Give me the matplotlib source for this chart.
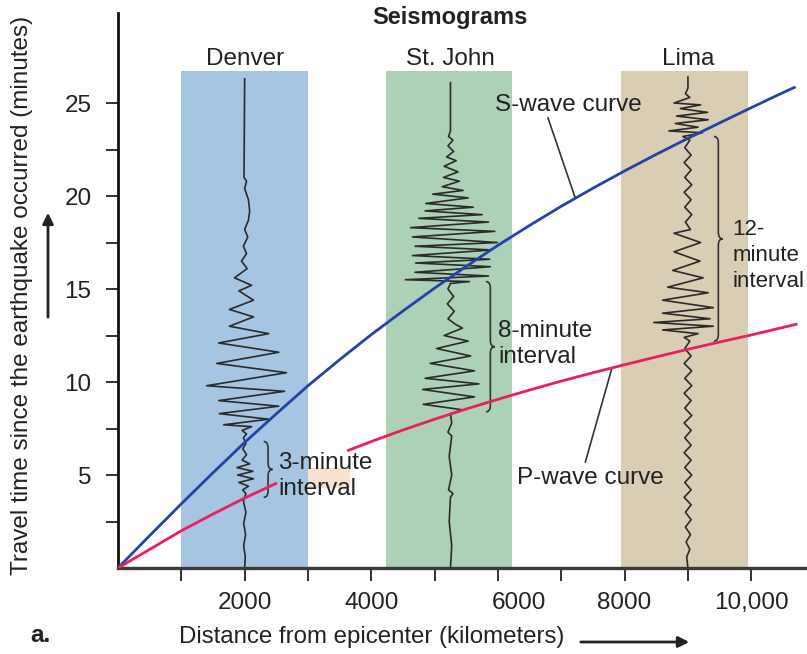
import matplotlib
matplotlib.use("Agg")
import matplotlib.pyplot as plt
import matplotlib.transforms as mtransforms
from matplotlib.path import Path
from matplotlib.patches import PathPatch, Rectangle, FancyArrowPatch

plt.rcParams['font.family'] = ['Liberation Sans', 'DejaVu Sans']

# ---- data -------------------------------------------------------------
stations = ["Denver", "St. John", "Lima"]
station_km = [2000, 5250, 9000]
band_left_km = [1000, 4230, 7950]
band_right_km = [3000, 6220, 9950]
band_top_min = 26.7
band_colors = ["#a5c5e2", "#acd1b6", "#d9cdb3"]

# S-wave travel-time curve (km, minutes)
s_km = [0, 500, 1000, 1500, 2000, 2500, 3000, 3500, 4000, 4500, 5000, 5500,
        6000, 6500, 7000, 7500, 8000, 8500, 9000, 9500, 10000, 10350, 10700]
s_min = [0, 1.74, 3.45, 5.12, 6.75, 8.29, 9.8, 11.2, 12.55, 13.82, 15.05, 16.22,
         17.35, 18.42, 19.45, 20.42, 21.35, 22.24, 23.1, 23.93, 24.75, 25.32, 25.87]

# P-wave travel-time curve, drawn in two pieces around the Denver label
p_near_km = [0, 500, 1000, 1500, 2000, 2510]
p_near_min = [0, 1.0, 2.0, 2.9, 3.76, 4.57]
p_far_km = [3620, 4000, 4500, 5000, 5500, 6000, 6500, 7000, 7500, 8000,
            8500, 9000, 9500, 10000, 10730]
p_far_min = [6.3, 6.8, 7.42, 8.0, 8.55, 9.07, 9.57, 10.05, 10.5, 10.93,
             11.35, 11.76, 12.15, 12.53, 13.12]

# seismogram traces: (minutes, sideways deflection in km)
denver_t = [26.3, 21.0, 20.8, 20.4, 19.8, 19.2, 18.7, 18.2, 17.8, 17.3, 16.9,
            16.5, 16.1, 15.6, 15.2, 14.9, 14.4, 13.9, 13.5, 13.0, 12.6, 12.1,
            11.6, 11.0, 10.5, 9.8, 9.5, 9.0, 8.7, 8.3, 8.0, 7.7, 7.6, 7.4, 7.2,
            7.0, 6.7, 6.4, 6.1, 5.8, 5.6, 5.4, 5.2, 5.0, 4.8, 4.6, 4.4, 4.2,
            4.0, 3.6, 3.0, 2.4, 1.8, 1.2, 0.6, 0.0]
denver_dx = [0, -10, 30, 0, 60, 80, 60, 0, 50, -20, 30,
             -50, 40, -160, 110, -90, 140, -240, 140, -240, 380, -410,
             540, -440, 660, -600, 630, -410, 540, -400, 380, -330, 110, -40, 30,
             -20, 20, -30, 30, -40, 80, -120, 130, -110, 140, -90, 60, -30,
             20, -20, 20, -15, 15, -15, 10, 0]

stjohn_t = [26.1, 23.5, 23.2, 23.0, 22.7, 22.4, 22.1, 21.9, 21.6, 21.3, 21.0,
            20.8, 20.5, 20.3, 20.1, 19.9, 19.6, 19.4, 19.2, 19.0, 18.8, 18.6,
            18.3, 18.1, 17.8, 17.5, 17.3, 17.1, 16.8, 16.6, 16.4, 16.2, 15.9,
            15.7, 15.5, 15.4, 15.3, 15.0, 14.6, 14.2, 13.8, 13.4, 13.1, 12.9,
            12.5, 12.2, 11.8, 11.4, 11.0, 10.6, 10.2, 9.9, 9.6, 9.2, 8.8, 8.5,
            8.3, 7.8, 7.3, 7.1, 6.0, 5.0, 4.2, 4.0, 3.8, 2.5, 1.2, 0.0]
stjohn_dx = [0, 0, -30, 40, -40, 50, -60, 90, -100, 120, -110,
             140, -130, 200, -280, 280, -390, 360, -400, 500, -500, 600,
             -630, 700, -600, 740, -560, 650, -600, 620, -550, 630, -560,
             600, -710, 300, 0, -40, 50, -50, 60, -40, 80, 190,
             -100, 280, -220, 320, -320, 380, -400, 450, -440, 380, -430, 200,
             0, 20, -40, 20, -20, 20, -30, 40, 0, -20, 20, 0]

lima_t = [26.4, 25.8, 25.5, 25.3, 25.0, 24.9, 24.7, 24.5, 24.3, 24.1, 23.9,
          23.7, 23.5, 23.4, 23.2, 23.0, 22.6, 22.2, 21.8, 21.4, 21.0, 20.6,
          20.2, 19.8, 19.4, 19.0, 18.6, 18.2, 18.0, 17.5, 17.0, 16.5, 16.0,
          15.6, 15.1, 14.8, 14.4, 14.0, 13.7, 13.4, 13.2, 13.0, 12.8, 12.6,
          12.4, 12.2, 11.8, 11.4, 11.0, 10.6, 10.2, 9.8, 9.4, 9.0, 8.6, 8.2,
          7.8, 7.4, 7.0, 6.6, 6.2, 5.8, 5.4, 5.0, 4.6, 4.2, 3.8, 3.4, 3.0,
          2.6, 2.2, 1.8, 1.4, 1.0, 0.6, 0.0]
lima_dx = [0, 0, -40, 30, -220, 200, -120, 310, -180, 320, -200,
           160, -300, 230, -80, 30, -50, 50, -60, 50, -50, 60,
           -60, 50, -50, 60, -40, 40, -220, 200, -220, 190, -240,
           240, -320, 320, -400, 400, -400, 350, -540, 400, -400, 160,
           -60, 30, -50, 50, -60, 60, -50, 60, -60, 50, -50, 60,
           -60, 50, -50, 50, -60, 50, -50, 60, -50, 50, -60, 50, -40,
           50, -40, 40, -30, 30, -20, 0]

# interval braces: (x position in km, lower minute, upper minute)
brace_km = [2370, 5880, 9480]
brace_lo = [3.8, 8.4, 12.2]
brace_hi = [6.8, 15.4, 23.2]

x_ticks = list(range(1000, 10001, 1000))
x_tick_labels = ["", "2000", "", "4000", "", "6000", "", "8000", "", "10,000"]
y_ticks = [2.5, 5, 7.5, 10, 12.5, 15, 17.5, 20, 22.5, 25]
y_tick_labels = ["", "5", "", "10", "", "15", "", "20", "", "25"]

# ---- figure -----------------------------------------------------------
fig = plt.figure(figsize=(8.07, 6.54), dpi=100)
ax = fig.add_axes([0.1462, 0.1315, 0.8538, 0.8486])
ax.set_xlim(0, 10880)
ax.set_ylim(0, 29.84)

txt = "#222222"
fs = 17.5

for name, cx, l, r, c in zip(stations, station_km, band_left_km, band_right_km, band_colors):
    ax.add_patch(Rectangle((l, 0), r - l, band_top_min, facecolor=c,
                           edgecolor="none", zorder=0))
    ax.text(cx, band_top_min + 0.05, name, ha="center", va="bottom",
            fontsize=fs, color=txt)

# light highlight behind the Denver interval note
ax.add_patch(Rectangle((3000, 4.3), 670, 1.1, facecolor="#f7e2cf",
                       edgecolor="none", zorder=0))

# seismograms
for cx, tt, dx in [(station_km[0], denver_t, denver_dx),
                   (station_km[1], stjohn_t, stjohn_dx),
                   (station_km[2], lima_t, lima_dx)]:
    ax.plot([cx + d for d in dx], tt, color="#2b2b2b", lw=1.2, zorder=2,
            solid_joinstyle="round")

# travel-time curves
ax.plot(s_km, s_min, color="#2443a6", lw=2.0, zorder=4, solid_capstyle="butt")
ax.plot(p_near_km, p_near_min, color="#ea1f5e", lw=2.0, zorder=4, solid_capstyle="butt")
ax.plot(p_far_km, p_far_min, color="#ea1f5e", lw=2.0, zorder=4, solid_capstyle="butt")


def brace(x, y0, y1, w=70.0, c=0.35):
    ym = 0.5 * (y0 + y1)
    verts = [(x - w, y1), (x, y1), (x, y1 - c),
             (x, ym + c),
             (x, ym), (x + w, ym),
             (x, ym), (x, ym - c),
             (x, y0 + c),
             (x, y0), (x - w, y0)]
    codes = [Path.MOVETO, Path.CURVE3, Path.CURVE3,
             Path.LINETO,
             Path.CURVE3, Path.CURVE3,
             Path.CURVE3, Path.CURVE3,
             Path.LINETO,
             Path.CURVE3, Path.CURVE3]
    ax.add_patch(PathPatch(Path(verts, codes), facecolor="none",
                           edgecolor="#333333", lw=1.2, zorder=3))


for bx, lo, hi in zip(brace_km, brace_lo, brace_hi):
    brace(bx, lo, hi)

ls = 1.2
ax.text(2530, 4.95, "3-minute\ninterval", fontsize=fs, color=txt,
        ha="left", va="center", linespacing=ls, zorder=5)
ax.text(6000, 12.05, "8-minute\ninterval", fontsize=fs, color=txt,
        ha="left", va="center", linespacing=ls, zorder=5)
ax.text(9700, 16.8, "12-\nminute\ninterval", fontsize=16, color=txt,
        ha="left", va="center", linespacing=1.3, zorder=5)

# curve labels with pointer lines
ax.text(5960, 24.9, "S-wave curve", fontsize=fs, color=txt, ha="left", va="center")
ax.plot([6790, 7220], [24.2, 19.9], color="#333333", lw=1.2, zorder=3)
ax.text(6300, 4.84, "P-wave curve", fontsize=fs, color=txt, ha="left", va="center")
ax.plot([7380, 7800], [5.7, 10.75], color="#333333", lw=1.2, zorder=3)

# axes styling
for s in ["top", "right"]:
    ax.spines[s].set_visible(False)
ax.spines["left"].set_color("#111111")
ax.spines["left"].set_linewidth(2.0)
ax.spines["bottom"].set_color("#3a3a3a")
ax.spines["bottom"].set_linewidth(2.4)

ax.set_xticks(x_ticks)
ax.set_xticklabels(x_tick_labels)
ax.set_yticks(y_ticks)
ax.set_yticklabels(y_tick_labels)
ax.tick_params(axis="both", direction="out", length=9, width=1.4,
               color="#333333", labelsize=fs, labelcolor=txt)
ax.tick_params(axis="x", pad=8)
ax.tick_params(axis="y", pad=10)

# the 6000 label sits a little right of its tick
lab6000 = ax.get_xticklabels()[5]
lab6000.set_transform(lab6000.get_transform() +
                      mtransforms.ScaledTranslation(0.21, 0, fig.dpi_scale_trans))

# titles and axis captions
fig.text(0.5576, 0.974, "Seismograms", fontsize=17, fontweight="bold",
         color=txt, ha="center", va="center")
fig.text(0.027, 0.549, "Travel time since the earthquake occurred (minutes)",
         fontsize=17.5, color=txt, rotation=90, ha="center", va="center")
fig.text(0.46, 0.026, "Distance from epicenter (kilometers)", fontsize=17.3,
         color=txt, ha="center", va="center")
fig.text(0.037, 0.029, "a.", fontsize=fs, fontweight="bold", color=txt,
         ha="left", va="center")

fig.add_artist(FancyArrowPatch((48 / 807, 1 - 320 / 654), (48 / 807, 1 - 210 / 654),
                               transform=fig.transFigure, arrowstyle="-|>",
                               mutation_scale=16, lw=2.0, color="#222222"))
fig.add_artist(FancyArrowPatch((578 / 807, 1 - 642 / 654), (692 / 807, 1 - 642 / 654),
                               transform=fig.transFigure, arrowstyle="-|>",
                               mutation_scale=16, lw=2.0, color="#222222"))

fig.savefig("out.png", dpi=100)
